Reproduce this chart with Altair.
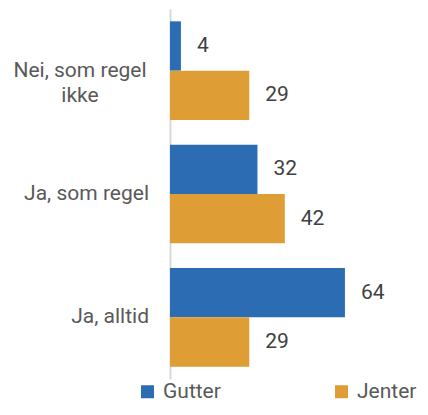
import altair as alt
import pandas as pd

categories = ["Nei, som regel ikke", "Ja, som regel", "Ja, alltid"]
category_lines = ["Nei, som regel\nikke", "Ja, som regel", "Ja, alltid"]
series = ["Gutter", "Jenter"]
gutter = [4, 32, 64]
jenter = [29, 42, 29]
colors = ["#2B6CB3", "#DE9E35"]

rows = []
for c, lab, g, j in zip(categories, category_lines, gutter, jenter):
    rows.append({"kategori": c, "etikett": lab, "kjonn": "Gutter", "verdi": g})
    rows.append({"kategori": c, "etikett": lab, "kjonn": "Jenter", "verdi": j})
df = pd.DataFrame(rows)

FONT = "Roboto"
FS = 21
LABEL_COLOR = "#595959"

y_enc = alt.Y(
    "kategori:N",
    sort=categories,
    scale=alt.Scale(paddingInner=0.2, paddingOuter=0.1),
    axis=alt.Axis(
        title=None,
        ticks=False,
        labels=False,
        domain=True,
        domainColor="#d9d9d9",
        domainWidth=2,
        grid=False,
    ),
)

base = alt.Chart(df).encode(
    y=y_enc,
    yOffset=alt.YOffset("kjonn:N", sort=series, scale=alt.Scale(paddingInner=0, paddingOuter=0)),
    x=alt.X("verdi:Q", scale=alt.Scale(domain=[0, 90]), axis=None),
)

bars = base.mark_bar().encode(
    color=alt.Color(
        "kjonn:N",
        sort=series,
        scale=alt.Scale(domain=series, range=colors),
        legend=alt.Legend(
            title=None,
            orient="none",
            legendX=-33,
            legendY=372,
            direction="horizontal",
            symbolType="square",
            symbolSize=169,
            symbolStrokeWidth=0,
            labelFont=FONT,
            labelFontSize=FS,
            labelColor=LABEL_COLOR,
            labelOffset=5,
            columnPadding=110,
        ),
    )
)

values = base.mark_text(
    align="left", baseline="middle", dx=16, font=FONT, fontSize=FS, color="#404040"
).encode(text="verdi:Q")

cat_base = alt.Chart(df).transform_filter("datum.kjonn == 'Gutter'")

cat_single = (
    cat_base.transform_filter("indexof(datum.etikett, '\\n') < 0")
    .mark_text(align="right", baseline="middle", font=FONT, fontSize=FS, color=LABEL_COLOR)
    .encode(y=alt.Y("kategori:N", sort=categories), x=alt.value(-21), text="etikett:N")
)

cat_multi = (
    cat_base.transform_filter("indexof(datum.etikett, '\\n') >= 0")
    .mark_text(
        align="center",
        baseline="middle",
        font=FONT,
        fontSize=FS,
        color=LABEL_COLOR,
        lineBreak="\n",
        lineHeight=25,
    )
    .encode(y=alt.Y("kategori:N", sort=categories), x=alt.value(-90), text="etikett:N")
)

chart = (
    alt.layer(bars, values, cat_single, cat_multi)
    .properties(
        width=246,
        height=370,
        padding={"left": 162, "top": 1, "right": 4, "bottom": 25},
        autosize=alt.AutoSizeParams(type="none"),
    )
    .configure_view(stroke=None)
)

chart.save("out.html", embed_options={"renderer": "svg", "actions": False})
